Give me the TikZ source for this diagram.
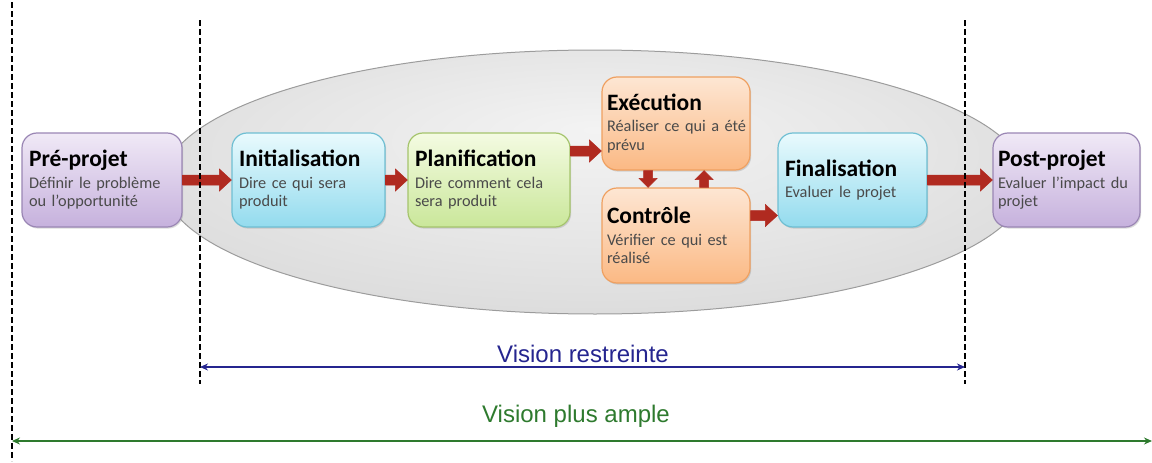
\documentclass[tikz,border=0pt]{standalone}
\usepackage{fontspec}
\setmainfont{Carlito}
\newfontfamily\visfont{Liberation Sans}
\usetikzlibrary{arrows.meta,shadows,calc}
\definecolor{subgray}{HTML}{4A4A4A}
\definecolor{preTop}{HTML}{F0E9F6}
\definecolor{preBot}{HTML}{C6B1DD}
\definecolor{preLine}{HTML}{9A86B4}
\definecolor{iniTop}{HTML}{E9FAFD}
\definecolor{iniBot}{HTML}{93DBEE}
\definecolor{iniLine}{HTML}{6FBFD3}
\definecolor{plaTop}{HTML}{F4FBE2}
\definecolor{plaBot}{HTML}{CAE79A}
\definecolor{plaLine}{HTML}{A5C46C}
\definecolor{exeTop}{HTML}{FDE6D3}
\definecolor{exeBot}{HTML}{FBB984}
\definecolor{exeLine}{HTML}{EFA060}
\definecolor{arrDark}{HTML}{B02A20}
\definecolor{arrHi}{HTML}{F08A7C}
\definecolor{ellIn}{HTML}{F3F3F3}
\definecolor{ellMid}{HTML}{E6E6E6}
\definecolor{ellOut}{HTML}{D2D2D2}
\definecolor{ellLine}{HTML}{9C9C9C}
\definecolor{visblue}{HTML}{25258F}
\definecolor{visgreen}{HTML}{2E7A2E}
\pgfdeclareradialshading{ellshade}{\pgfpoint{0bp}{10bp}}{color(0bp)=(ellIn); color(18bp)=(ellMid); color(42bp)=(ellOut); color(50bp)=(ellOut)}
\newcommand\ttl[1]{{\fontsize{23.5}{25}\selectfont\bfseries\color{black}#1}}
% horizontal block arrow from coordinate #1 to coordinate #2 (same height)
\newcommand\harrow[2]{%
  \shade[top color=arrDark, middle color=arrHi, bottom color=arrDark, draw=arrDark, line width=0.5pt]
    ($(#1)+(0,-5)$) -- ($(#2)+(-12,-5)$) -- ($(#2)+(-12,-11)$) -- (#2)
    -- ($(#2)+(-12,11)$) -- ($(#2)+(-12,5)$) -- ($(#1)+(0,5)$) -- cycle;}
% vertical block arrow from #1 to #2 (same x); #3 = +1 downwards, -1 upwards
\newcommand\varrow[3]{%
  \shade[left color=arrDark, middle color=arrHi, right color=arrDark, draw=arrDark, line width=0.5pt]
    ($(#1)+(-4.5,0)$) -- ($(#2)+(-4.5,-9*#3)$) -- ($(#2)+(-9,-9*#3)$) -- (#2)
    -- ($(#2)+(9,-9*#3)$) -- ($(#2)+(4.5,-9*#3)$) -- ($(#1)+(4.5,0)$) -- cycle;}
\begin{document}
\begin{tikzpicture}[x=1pt,y=-1pt,
  box/.style={draw, line width=1.2pt, rounded corners=15pt, align=left,
    inner xsep=7pt, inner ysep=0pt,
    font=\fontsize{16.3}{18.5}\selectfont, text=subgray,
    drop shadow={shadow xshift=1.2pt, shadow yshift=-1.6pt, opacity=0.28}},
  prebox/.style={box, top color=preTop, bottom color=preBot, draw=preLine},
  inibox/.style={box, top color=iniTop, bottom color=iniBot, draw=iniLine},
  plabox/.style={box, top color=plaTop, bottom color=plaBot, draw=plaLine},
  exebox/.style={box, top color=exeTop, bottom color=exeBot, draw=exeLine},
  vdash/.style={draw=black, line width=1.1pt, dash pattern=on 5.5pt off 3.5pt},
  vislbl/.style={font=\visfont\fontsize{24}{28}\selectfont, anchor=base, inner sep=0pt}
]
\useasboundingbox (0,0) rectangle (1152,463);
% ellipse
\shade[shading=ellshade] (595,182) ellipse [x radius=432pt, y radius=132pt];
\draw[ellLine, line width=1pt] (595,182) ellipse [x radius=432pt, y radius=132pt];

% boxes
\node[prebox, minimum width=160pt, minimum height=94pt, text width=146pt] (pre) at (102,180)
  {\ttl{Pré-projet}\\[3pt]Définir le problème\\ou l’opportunité};
\node[inibox, minimum width=153pt, minimum height=94pt, text width=139pt] (init) at (308.5,180)
  {\ttl{Initialisation}\\[3pt]Dire ce qui sera\\produit};
\node[plabox, minimum width=162pt, minimum height=94pt, text width=148pt] (plan) at (489,180)
  {\ttl{Planification}\\[3pt]Dire comment cela\\sera produit};
\node[exebox, minimum width=148pt, minimum height=93pt, text width=138pt, inner xsep=5pt] (exec) at (676,123.5)
  {\ttl{Exécution}\\[3pt]\mbox{Réaliser ce qui a été}\\prévu};
\node[exebox, minimum width=148pt, minimum height=95pt, text width=138pt, inner xsep=5pt] (ctrl) at (676,235.5)
  {\ttl{Contrôle}\\[3pt]Vérifier ce qui est\\réalisé};
\node[inibox, minimum width=149pt, minimum height=94pt, text width=135pt] (fin) at (852.5,180)
  {\ttl{Finalisation}\\[3pt]Evaluer le projet};
\node[prebox, minimum width=147pt, minimum height=94pt, text width=137pt, inner xsep=5pt] (post) at (1066.5,180)
  {\ttl{Post-projet}\\[3pt]\mbox{Evaluer l’impact du}\\projet};

% red block arrows
\harrow{pre.east}{init.west}
\harrow{init.east}{plan.west}
\path ([yshift=29pt]plan.east) coordinate (pe) (pe -| exec.west) coordinate (pe2);
\harrow{pe}{pe2}
\path ([yshift=20pt]ctrl.east) coordinate (ce) (ce -| fin.west) coordinate (ce2);
\harrow{ce}{ce2}
\harrow{fin.east}{post.west}
\path ([xshift=-28pt]exec.south) coordinate (ed) (ed |- ctrl.north) coordinate (ed2);
\varrow{ed}{ed2}{1}
\path ([xshift=28pt]ctrl.north) coordinate (cu) (cu |- exec.south) coordinate (cu2);
\varrow{cu}{cu2}{-1}

% dashed guides
\coordinate (g1t) at (12,2);   \coordinate (g1b) at (12,461);
\coordinate (g2t) at (200,20); \coordinate (g2b) at (200,384);
\coordinate (g3t) at (965,20); \coordinate (g3b) at (965,384);
\draw[vdash] (g1t) -- (g1b);
\draw[vdash] (g2t) -- (g2b);
\draw[vdash] (g3t) -- (g3b);

% vision arrows
\coordinate (vrl) at (200,367); \coordinate (vrr) at (965,367);
\draw[visblue, line width=2pt, {Stealth[length=8pt,width=7pt]}-{Stealth[length=8pt,width=7pt]}] (vrl) -- (vrr);
\node[vislbl, text=visblue] (vrt) at (583,362) {Vision restreinte};
\coordinate (vpl) at (12,441); \coordinate (vpr) at (1152,441);
\draw[visgreen, line width=2pt, {Stealth[length=8pt,width=7pt]}-{Stealth[length=8pt,width=7pt]}] (vpl) -- (vpr);
\node[vislbl, text=visgreen] (vpt) at (576,422) {Vision plus ample};
\end{tikzpicture}
\end{document}
